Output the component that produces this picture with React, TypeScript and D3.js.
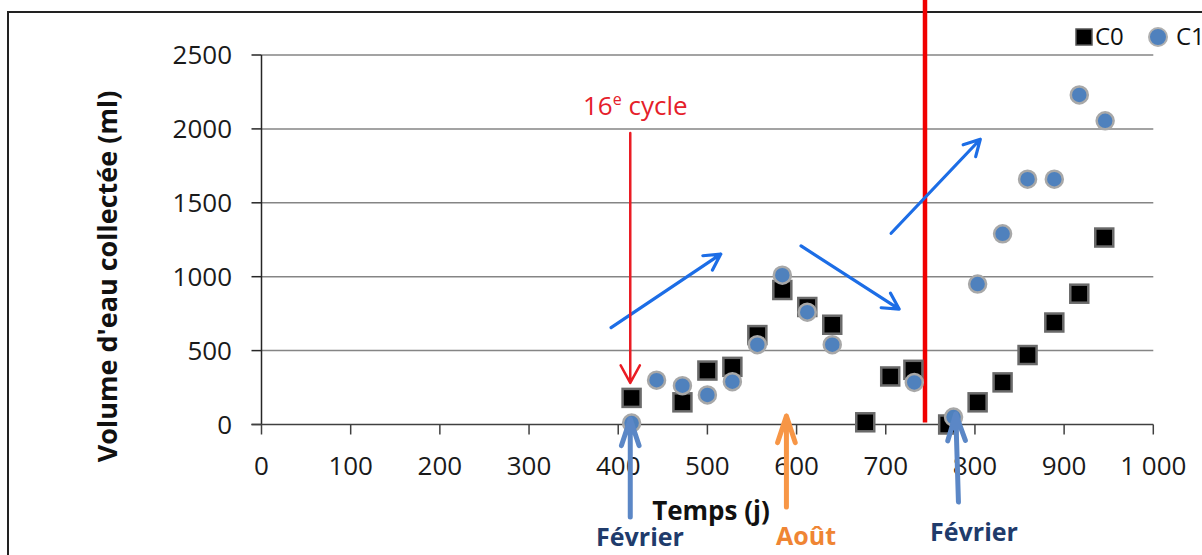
import React from "react";
import * as d3 from "d3";

// ---- Data ----
const c0Days = [415, 472, 500, 528, 556, 584, 612, 640, 677, 705, 731, 770, 803, 831, 859, 889, 917, 945];
const c0Volumes = [180, 150, 365, 390, 605, 910, 795, 675, 15, 325, 370, 0, 150, 285, 470, 690, 885, 1265];
const c1Days = [415, 443, 472, 500, 528, 556, 584, 612, 640, 732, 776, 803, 831, 859, 889, 917, 946];
const c1Volumes = [10, 300, 263, 200, 290, 540, 1010, 760, 540, 285, 50, 950, 1290, 1660, 1660, 2230, 2055];

const xTicks = [0, 100, 200, 300, 400, 500, 600, 700, 800, 900, 1000];
const xTickLabels = ["0", "100", "200", "300", "400", "500", "600", "700", "800", "900", "1 000"];
const yTicks = [0, 500, 1000, 1500, 2000, 2500];
const yTickLabels = ["0", "500", "1000", "1500", "2000", "2500"];

const seriesNames = ["C0", "C1"];

// annotations (data coordinates)
const trendArrows = [
  { from: [392, 655], to: [515, 1153] },
  { from: [605, 1208], to: [715, 781] },
  { from: [706, 1294], to: [806, 1930] },
];
const cycleDay = 413.5; // "16e cycle" arrow
const separatorDay = 744; // red vertical line
const seasonArrows = [
  { x1: 413.5, x2: 413.5, yStart: 517, yEnd: 419, color: "#5b87c6" },
  { x1: 588.6, x2: 588.6, yStart: 507, yEnd: 416, color: "#f79646" },
  { x1: 781.5, x2: 778.5, yStart: 502, yEnd: 414, color: "#5b87c6" },
];
const seasonLabels = [
  { x: 640, y: 546, text: "Février", color: "#203b6b" },
  { x: 806, y: 545, text: "Août", color: "#ef8534" },
  { x: 974, y: 541, text: "Février", color: "#203b6b" },
];

const W = 1202;
const H = 555;
const FONT = "'Open Sans', 'Noto Sans', sans-serif";

function arrow(x1: number, y1: number, x2: number, y2: number, len: number, ang: number) {
  const a = Math.atan2(y2 - y1, x2 - x1);
  const l1x = x2 - len * Math.cos(a - ang);
  const l1y = y2 - len * Math.sin(a - ang);
  const l2x = x2 - len * Math.cos(a + ang);
  const l2y = y2 - len * Math.sin(a + ang);
  return `M${x1},${y1}L${x2},${y2}M${l1x},${l1y}L${x2},${y2}L${l2x},${l2y}`;
}

export default function App() {
  const x = d3.scaleLinear().domain([0, 1000]).range([261.5, 1153.3]);
  const y = d3.scaleLinear().domain([0, 2500]).range([424.5, 55]);
  const x0 = x(0);
  const x1 = x(1000);
  const y0 = y(0);

  return (
    <svg
      width={W}
      height={H}
      style={{ position: "absolute", left: 0, top: 0, background: "#fff" }}
      fontFamily={FONT}
    >
      <rect x={0} y={0} width={W} height={H} fill="#fff" />
      {/* outer frame */}
      <rect x={8} y={12} width={1260} height={620} fill="none" stroke="#222" strokeWidth={2} />

      {/* gridlines */}
      {yTicks.slice(1).map((t) => (
        <line key={"g" + t} x1={x0} x2={x1} y1={y(t)} y2={y(t)} stroke="#858585" strokeWidth={1.5} />
      ))}
      {/* y axis */}
      <line x1={x0} x2={x0} y1={y0} y2={y(2500)} stroke="#262626" strokeWidth={1.5} />
      {yTicks.map((t, i) => (
        <g key={"yt" + t}>
          <line x1={x0 - 10} x2={x0} y1={y(t)} y2={y(t)} stroke="#262626" strokeWidth={1.5} />
          <text x={232} y={y(t) + 9} textAnchor="end" fontSize={26} fill="#1a1a1a">
            {yTickLabels[i]}
          </text>
        </g>
      ))}
      {/* x axis */}
      <line x1={x0 - 10} x2={x1} y1={y0} y2={y0} stroke="#404040" strokeWidth={1.5} />
      {xTicks.map((t, i) => (
        <g key={"xt" + t}>
          <line x1={x(t)} x2={x(t)} y1={y0} y2={y0 + 10} stroke="#404040" strokeWidth={1.5} />
          <text x={x(t)} y={475} textAnchor="middle" fontSize={26} fill="#1a1a1a">
            {xTickLabels[i]}
          </text>
        </g>
      ))}

      {/* axis titles */}
      <text x={711} y={520} textAnchor="middle" fontSize={26} fontWeight="bold" fill="#111">
        Temps (j)
      </text>
      <text
        transform={`translate(117,276.5) rotate(-90)`}
        textAnchor="middle"
        fontSize={27}
        fontWeight="bold"
        fill="#111"
      >
        Volume d'eau collectée (ml)
      </text>

      {/* red separator line */}
      <line x1={x(separatorDay)} x2={x(separatorDay)} y1={0} y2={y0 - 2} stroke="#f00000" strokeWidth={4.5} />

      {/* series C0 squares */}
      {c0Days.map((d, i) => (
        <rect
          key={"c0" + i}
          x={x(d) - 9}
          y={y(c0Volumes[i]) - 9}
          width={18}
          height={18}
          fill="#000"
          stroke="#6a6a6a"
          strokeWidth={2.5}
        />
      ))}
      {/* series C1 circles */}
      {c1Days.map((d, i) => (
        <circle
          key={"c1" + i}
          cx={x(d)}
          cy={y(c1Volumes[i])}
          r={8.5}
          fill="#4f81bd"
          stroke="#a8a8a8"
          strokeWidth={2.5}
        />
      ))}

      {/* trend arrows */}
      {trendArrows.map((a, i) => (
        <path
          key={"ta" + i}
          d={arrow(x(a.from[0]), y(a.from[1]), x(a.to[0]), y(a.to[1]), 18, 0.5)}
          fill="none"
          stroke="#1c6de6"
          strokeWidth={3.2}
          strokeLinecap="round"
          strokeLinejoin="round"
        />
      ))}

      {/* 16e cycle */}
      <path
        d={arrow(x(cycleDay), y(1972), x(cycleDay), y(281), 20, 0.5)}
        fill="none"
        stroke="#ea1c24"
        strokeWidth={2.5}
        strokeLinecap="round"
        strokeLinejoin="round"
      />
      <text x={583} y={115} fontSize={26} fill="#e5202a">
        16
        <tspan dy={-10} fontSize={16}>
          e
        </tspan>
        <tspan dy={10}> cycle</tspan>
      </text>

      {/* season arrows */}
      {seasonArrows.map((s, i) => (
        <path
          key={"sa" + i}
          d={arrow(x(s.x1), s.yStart, x(s.x2), s.yEnd, 28, 0.32)}
          fill="none"
          stroke={s.color}
          strokeWidth={5}
          strokeLinecap="round"
          strokeLinejoin="round"
        />
      ))}
      {seasonLabels.map((l, i) => (
        <text key={"sl" + i} x={l.x} y={l.y} textAnchor="middle" fontSize={25} fontWeight="bold" fill={l.color}>
          {l.text}
        </text>
      ))}

      {/* legend */}
      <rect x={1076} y={29} width={16} height={16} fill="#000" stroke="#555" strokeWidth={1.5} />
      <text x={1095} y={45} fontSize={24} fill="#111">
        {seriesNames[0]}
      </text>
      <circle cx={1158} cy={37} r={9} fill="#4f81bd" stroke="#b0b0b0" strokeWidth={2} />
      <text x={1176} y={45} fontSize={24} fill="#111">
        {seriesNames[1]}
      </text>
    </svg>
  );
}
